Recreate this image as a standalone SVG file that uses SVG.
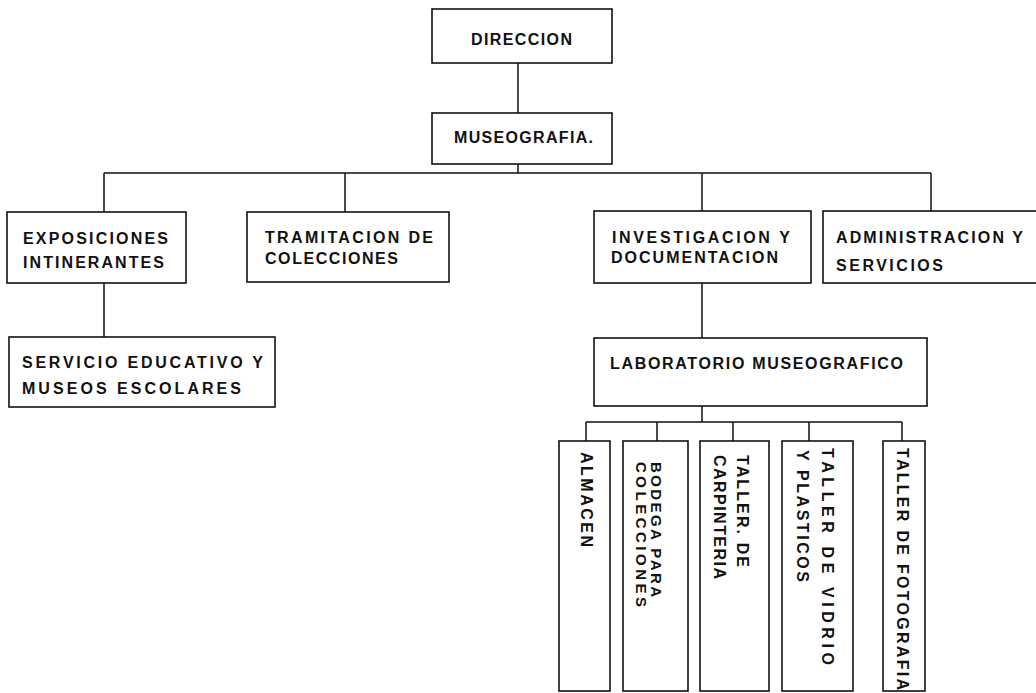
<svg xmlns="http://www.w3.org/2000/svg" width="1036" height="693" viewBox="0 0 1036 693">
<style>
.box{fill:#fff;stroke:#111;stroke-width:1.6}
.ln{fill:none;stroke:#111;stroke-width:1.5}
.t{font-family:"Liberation Sans","DejaVu Sans",sans-serif;font-weight:bold;font-size:16px;fill:#111}
.s{font-size:15px}
</style>
<rect width="1036" height="693" fill="#fff"/>
<g id="connectors">
<path class="ln" d="M518 63V113M518 164V173M104 173H931M104 173V212M345 173V212M702 173V211M931 173V211"/>
<path class="ln" d="M104 283V337M702 283V338M702 406V422M586 422H902M586 422V441M657 422V441M733 422V441M809 422V441M902 422V441"/>
</g>
<g id="direccion"><rect class="box" x="432" y="9" width="180" height="54"/><text class="t" x="471" y="45" textLength="101" lengthAdjust="spacing">DIRECCION</text></g>
<g id="museografia"><rect class="box" x="432" y="113" width="180" height="51"/><text class="t" x="454" y="143" textLength="139" lengthAdjust="spacing">MUSEOGRAFIA.</text></g>
<g id="exposiciones"><rect class="box" x="7" y="212" width="179" height="71"/><text class="t" x="23" y="244" textLength="145" lengthAdjust="spacing">EXPOSICIONES</text><text class="t" x="23" y="268" textLength="141" lengthAdjust="spacing">INTINERANTES</text></g>
<g id="tramitacion"><rect class="box" x="247" y="212" width="202" height="70"/><text class="t" x="265" y="243" textLength="168" lengthAdjust="spacing">TRAMITACION  DE</text><text class="t" x="265" y="264" textLength="133" lengthAdjust="spacing">COLECCIONES</text></g>
<g id="investigacion"><rect class="box" x="594" y="211" width="217" height="72"/><text class="t" x="612" y="243" textLength="178" lengthAdjust="spacing">INVESTIGACION  Y</text><text class="t" x="611" y="263" textLength="167" lengthAdjust="spacing">DOCUMENTACION</text></g>
<g id="administracion"><rect class="box" x="823" y="211" width="220" height="72"/><text class="t" x="836" y="243" textLength="187" lengthAdjust="spacing">ADMINISTRACION Y</text><text class="t" x="836" y="271" textLength="107" lengthAdjust="spacing">SERVICIOS</text></g>
<g id="servicio"><rect class="box" x="9" y="337" width="266" height="70"/><text class="t" x="22" y="368" textLength="241" lengthAdjust="spacing">SERVICIO EDUCATIVO Y</text><text class="t" x="22" y="394" textLength="219" lengthAdjust="spacing">MUSEOS  ESCOLARES</text></g>
<g id="laboratorio"><rect class="box" x="594" y="338" width="333" height="68"/><text class="t" x="610" y="369" textLength="293" lengthAdjust="spacing">LABORATORIO  MUSEOGRAFICO</text></g>
<g id="almacen"><rect class="box" x="559" y="441" width="51" height="250"/><text class="t" transform="translate(581 452) rotate(90)" textLength="95" lengthAdjust="spacing">ALMACEN</text></g>
<g id="bodega"><rect class="box" x="623" y="441" width="65" height="250"/><text class="t s" transform="translate(651 462) rotate(90)" textLength="135" lengthAdjust="spacing">BODEGA  PARA</text><text class="t s" transform="translate(636 462) rotate(90)" textLength="145" lengthAdjust="spacing">COLECCIONES</text></g>
<g id="carpinteria"><rect class="box" x="700" y="441" width="69" height="250"/><text class="t" transform="translate(737 455) rotate(90)" textLength="112" lengthAdjust="spacing">TALLER. DE</text><text class="t" transform="translate(714 455) rotate(90)" textLength="124" lengthAdjust="spacing">CARPINTERIA</text></g>
<g id="vidrio"><rect class="box" x="782" y="441" width="71" height="250"/><text class="t" transform="translate(822 448) rotate(90)" textLength="217" lengthAdjust="spacing">TALLER  DE  VIDRIO</text><text class="t" transform="translate(797 450) rotate(90)" textLength="132" lengthAdjust="spacing">Y  PLASTICOS</text></g>
<g id="fotografia"><rect class="box" x="883" y="441" width="42" height="250"/><text class="t" transform="translate(897 448) rotate(90)" textLength="242" lengthAdjust="spacing">TALLER  DE  FOTOGRAFIA</text></g>
</svg>
